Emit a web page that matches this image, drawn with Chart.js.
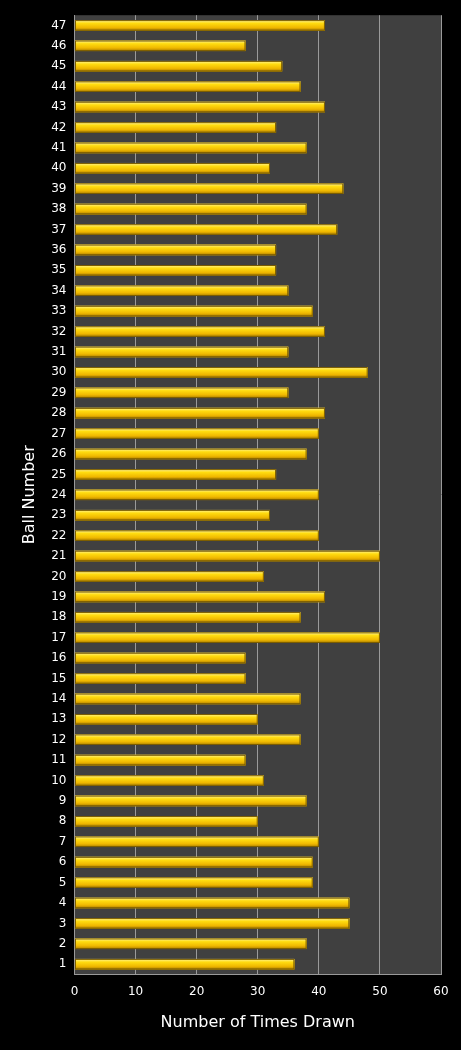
<!DOCTYPE html>
<html>
<head>
<meta charset="utf-8">
<script src="https://cdn.jsdelivr.net/npm/chart.js@4"></script>
<style>
	html, body { margin: 0; padding: 0; background: #000; }
	#wrap { width: 461px; height: 1050px; }
</style>
</head>
<body>
<div id="wrap"><canvas id="barOne"></canvas></div>
<script>
const ballNumbers = [];
for (let i = 47; i >= 1; i--) ballNumbers.push(String(i));

// times drawn, ball 47 down to ball 1
const timesDrawn = [41, 28, 34, 37, 41, 33, 38, 32, 44, 38, 43, 33, 33, 35, 39, 41,
	35, 48, 35, 41, 40, 38, 33, 40, 32, 40, 50, 31, 41, 37, 50, 28,
	28, 37, 30, 37, 28, 31, 38, 30, 40, 39, 39, 45, 45, 38, 36];

const plotBg = {
	id: "plotBg",
	beforeDraw(chart) {
		const a = chart.chartArea, c = chart.ctx;
		c.save();
		c.fillStyle = "#404040";
		c.fillRect(a.left, a.top, a.right - a.left, a.bottom - a.top);
		c.restore();
	}
};

// paint a shiny gradient over each bar
const barShine = {
	id: "barShine",
	afterDatasetsDraw(chart) {
		const c = chart.ctx;
		chart.getDatasetMeta(0).data.forEach(el => {
			const p = el.getProps(["x", "y", "base", "height"], true);
			const top = p.y - p.height / 2;
			const g = c.createLinearGradient(0, top, 0, top + p.height);
			g.addColorStop(0, "#fff5a0");
			g.addColorStop(0.3, "#ffdc10");
			g.addColorStop(0.7, "#f0b800");
			g.addColorStop(1, "#a87c00");
			c.save();
			c.fillStyle = g;
			c.fillRect(p.base, top, p.x - p.base, p.height);
			c.strokeStyle = "#7a5c00";
			c.lineWidth = 1;
			c.strokeRect(p.base + 0.5, top + 0.5, p.x - p.base - 1, p.height - 1);
			c.restore();
		});
	}
};

Chart.defaults.font.family = "'DejaVu Sans', Verdana, sans-serif";
Chart.defaults.color = "#fff";

new Chart(document.getElementById("barOne"), {
	type: "bar",
	data: {
		labels: ballNumbers,
		datasets: [{
			data: timesDrawn,
			backgroundColor: "#f2c200",
			borderWidth: 0,
			categoryPercentage: 1,
			barPercentage: 0.52
		}]
	},
	plugins: [plotBg, barShine],
	options: {
		indexAxis: "y",
		responsive: true,
		maintainAspectRatio: false,
		animation: false,
		layout: { padding: { top: 15, right: 20, bottom: 14, left: 16 } },
		plugins: { legend: { display: false }, tooltip: { enabled: false } },
		scales: {
			x: {
				min: 0, max: 60,
				ticks: { stepSize: 10, color: "#fff", font: { size: 12 }, padding: 10 },
				grid: { color: "#9a9a9a", drawTicks: false },
				border: { color: "#9a9a9a" },
				title: { display: true, text: "Number of Times Drawn", color: "#fff", font: { size: 16 } }
			},
			y: {
				ticks: { color: "#fff", font: { size: 12 }, autoSkip: false, padding: 8 },
				grid: { display: false, drawTicks: false },
				border: { color: "#9a9a9a" },
				title: { display: true, text: "Ball Number", color: "#fff", font: { size: 16 } }
			}
		}
	}
});
</script>
</body>
</html>
